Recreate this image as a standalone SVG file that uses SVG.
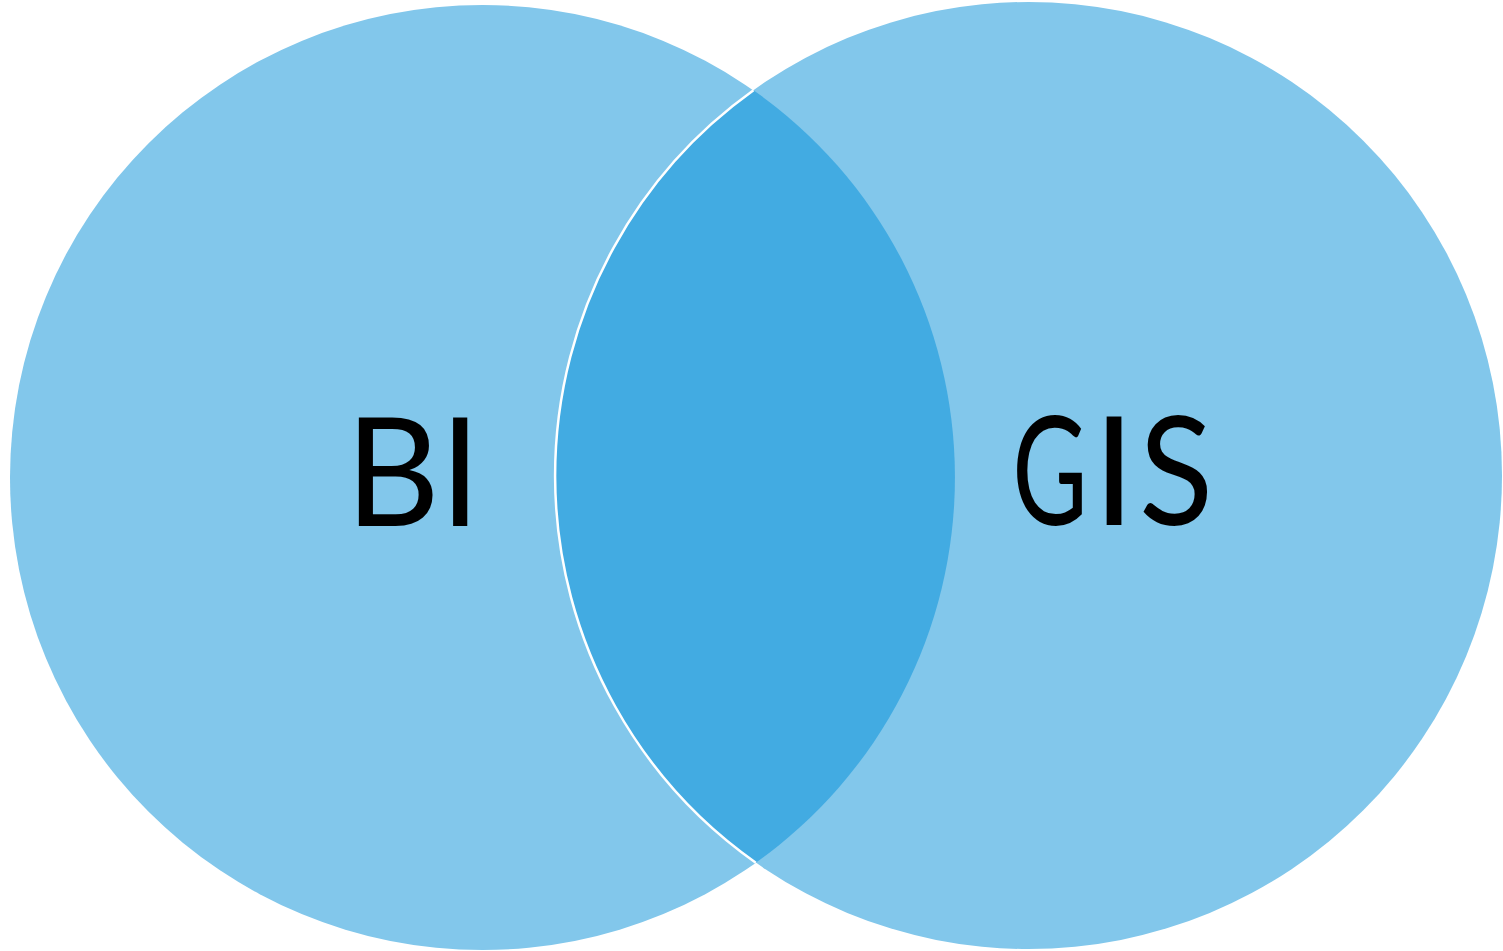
<svg xmlns="http://www.w3.org/2000/svg" width="1503" height="951" viewBox="0 0 1503 951">
  <style>
    .circle { fill: #82C7EB; }
    .lens { fill: #42ABE2; }
    .label { font-family: Lato, "Open Sans", "Liberation Sans", sans-serif; font-size: 152px; fill: #000; text-anchor: middle; }
  </style>
  <rect width="1503" height="951" fill="#fff"/>
  <g id="bi">
    <circle class="circle" cx="482.5" cy="477.5" r="472.5"/>
  </g>
  <g id="gis">
    <circle class="circle" cx="1028.5" cy="475.5" r="473.5"/>
  </g>
  <g id="overlap">
    <path class="lens" d="M 753.5 90.3 A 472.5 472.5 0 0 1 755.8 862.7 A 473.5 473.5 0 0 1 753.5 90.3 Z"/>
    <path d="M 753.5 90.3 A 473.5 473.5 0 0 0 755.8 862.7" fill="none" stroke="#fff" stroke-width="2.5"/>
  </g>
  <g id="label-bi">
    <text class="label" transform="translate(413 526) scale(0.96 1)">BI</text>
  </g>
  <g id="label-gis">
    <text class="label" transform="translate(1050 525) scale(0.68 1)">G</text>
    <text class="label" transform="translate(1114 525)">I</text>
    <text class="label" transform="translate(1176 525) scale(0.9 1)">S</text>
  </g>
</svg>
